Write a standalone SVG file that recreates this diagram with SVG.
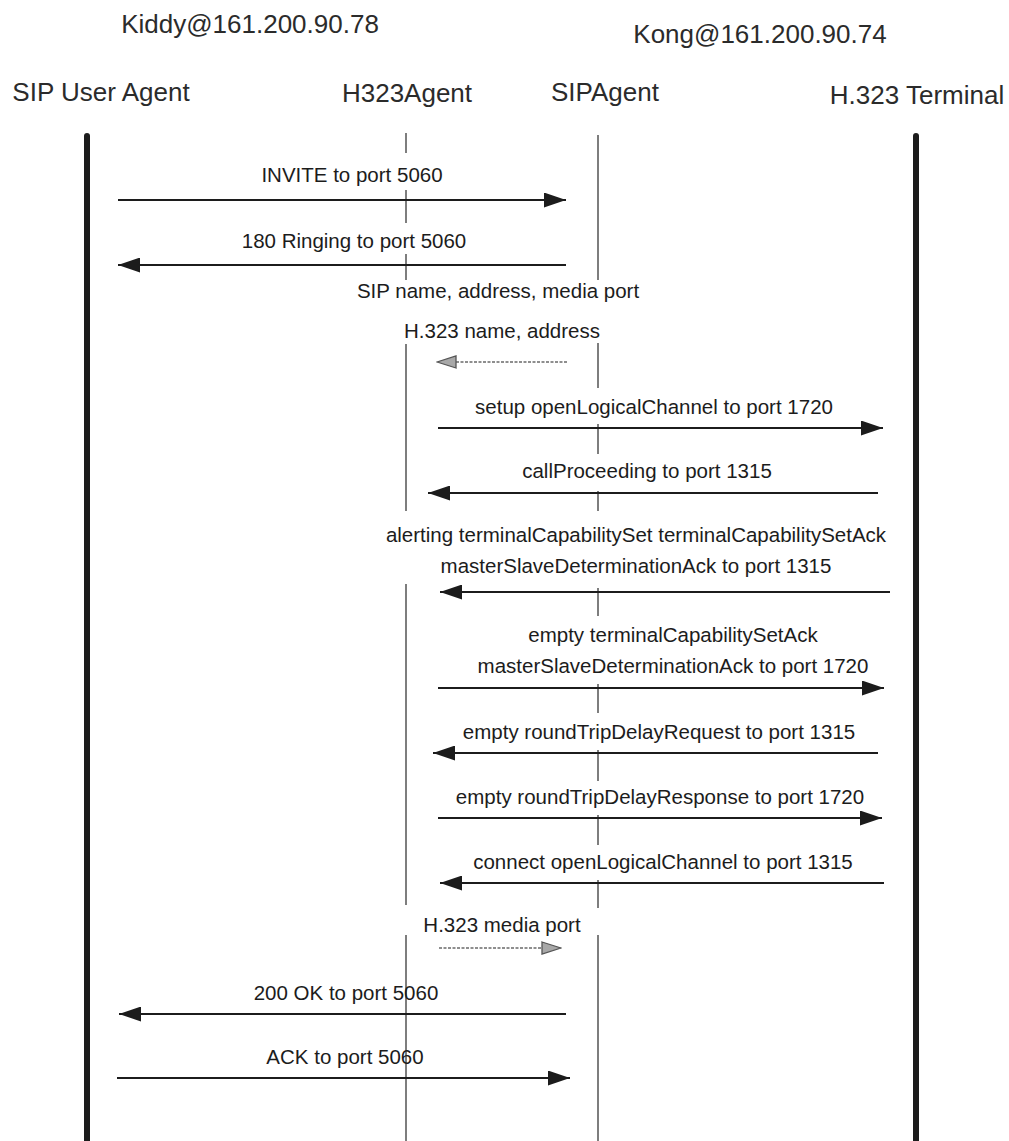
<svg xmlns="http://www.w3.org/2000/svg" width="1009" height="1141" viewBox="0 0 1009 1141">
<style>
  .hdr { font-family: "Liberation Sans", Arial, Helvetica, sans-serif; font-size: 26px; fill: #2b2b2b; text-anchor: middle; }
  .lbl { font-family: "Liberation Sans", Arial, Helvetica, sans-serif; font-size: 20.5px; fill: #1c1c1c; text-anchor: middle; }
  .thick { stroke: #1c1c1c; stroke-width: 6; stroke-linecap: round; fill: none; }
  .thin { stroke: #3a3a3a; stroke-width: 1.3; fill: none; }
  .msg { stroke: #1c1c1c; stroke-width: 2; fill: none; marker-end: url(#ah); }
  .aux { stroke: #6a6a6a; stroke-width: 1.6; stroke-dasharray: 3 1.5; fill: none; marker-end: url(#gh); }
</style>
<defs>
  <marker id="ah" markerUnits="userSpaceOnUse" markerWidth="22" markerHeight="15" refX="22" refY="7.5" orient="auto">
    <path d="M0,0 L22,7.5 L0,15 Z" fill="#1c1c1c"/>
  </marker>
  <marker id="gh" markerUnits="userSpaceOnUse" markerWidth="21" markerHeight="14" refX="20" refY="7" orient="auto">
    <path d="M1,1 L20,7 L1,13 Z" fill="#a8a8a8" stroke="#555" stroke-width="1.3"/>
  </marker>
</defs>
<rect width="1009" height="1141" fill="#ffffff"/>

<g id="host-kiddy"><text class="hdr" x="250" y="33">Kiddy@161.200.90.78</text></g>
<g id="host-kong"><text class="hdr" x="760" y="43">Kong@161.200.90.74</text></g>

<g id="sip-user-agent">
  <text class="hdr" x="101" y="101">SIP User Agent</text>
  <path class="thick" d="M87,136 V1141"/>
</g>
<g id="h323agent">
  <text class="hdr" x="407" y="102">H323Agent</text>
  <path class="thin" d="M406,133 V153 M406,190 V223 M406,254 V280 M406,344 V511 M406,584 V905 M406,935 V1141"/>
</g>
<g id="sipagent">
  <text class="hdr" x="605" y="101">SIPAgent</text>
  <path class="thin" d="M598,135 V280 M598,343 V388 M598,424 V454 M598,491 V511 M598,588 V616 M598,684 V713 M598,750 V781 M598,815 V845 M598,880 V908 M598,935 V1141"/>
</g>
<g id="h323-terminal">
  <text class="hdr" x="917" y="104">H.323 Terminal</text>
  <path class="thick" d="M916,136 V1141"/>
</g>

<g id="connectors">
  <g id="m-invite">
    <path class="msg" d="M118,200 H566"/>
    <text class="lbl" x="352" y="182">INVITE to port 5060</text>
  </g>
  <g id="m-ringing">
    <path class="msg" d="M566,265 H118"/>
    <text class="lbl" x="354" y="248">180 Ringing to port 5060</text>
  </g>
  <g id="m-names">
    <text class="lbl" x="498" y="298">SIP name, address, media port</text>
    <text class="lbl" x="502" y="338">H.323 name, address</text>
    <path class="aux" d="M567,362 H437"/>
  </g>
  <g id="m-setup">
    <path class="msg" d="M438,428 H883"/>
    <text class="lbl" x="654" y="414">setup openLogicalChannel to port 1720</text>
  </g>
  <g id="m-callproc">
    <path class="msg" d="M878,493 H428"/>
    <text class="lbl" x="647" y="478">callProceeding to port 1315</text>
  </g>
  <g id="m-alerting">
    <path class="msg" d="M890,592 H440"/>
    <text class="lbl" x="636" y="542">alerting terminalCapabilitySet terminalCapabilitySetAck</text>
    <text class="lbl" x="636" y="573">masterSlaveDeterminationAck to port 1315</text>
  </g>
  <g id="m-empty-tcsa">
    <path class="msg" d="M438,688 H884"/>
    <text class="lbl" x="673" y="642">empty terminalCapabilitySetAck</text>
    <text class="lbl" x="673" y="673">masterSlaveDeterminationAck to port 1720</text>
  </g>
  <g id="m-rtd-req">
    <path class="msg" d="M878,753 H433"/>
    <text class="lbl" x="659" y="739">empty roundTripDelayRequest to port 1315</text>
  </g>
  <g id="m-rtd-resp">
    <path class="msg" d="M438,818 H882"/>
    <text class="lbl" x="660" y="804">empty roundTripDelayResponse to port 1720</text>
  </g>
  <g id="m-connect">
    <path class="msg" d="M884,883 H440"/>
    <text class="lbl" x="663" y="869">connect openLogicalChannel to port 1315</text>
  </g>
  <g id="m-media">
    <text class="lbl" x="502" y="932">H.323 media port</text>
    <path class="aux" d="M439,948 H561"/>
  </g>
  <g id="m-200ok">
    <path class="msg" d="M566,1014 H119"/>
    <text class="lbl" x="346" y="1000">200 OK to port 5060</text>
  </g>
  <g id="m-ack">
    <path class="msg" d="M117,1078 H570"/>
    <text class="lbl" x="345" y="1064">ACK to port 5060</text>
  </g>
</g>
</svg>
